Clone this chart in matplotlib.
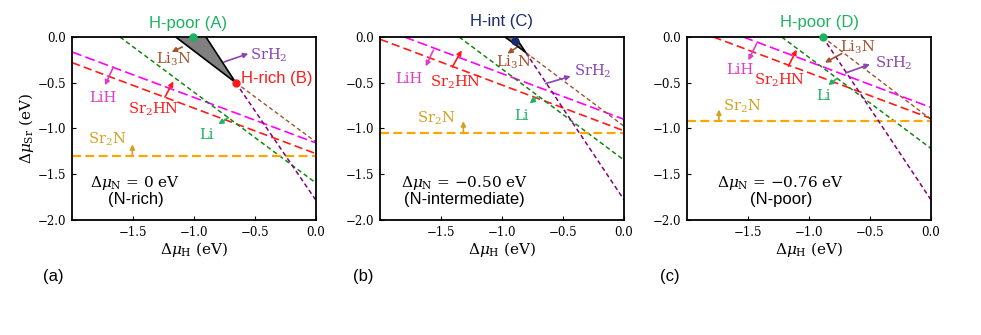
import matplotlib
matplotlib.use('Agg')
import matplotlib.pyplot as plt
from matplotlib.patches import Polygon

plt.rcParams['font.family'] = 'DejaVu Serif'
plt.rcParams['mathtext.fontset'] = 'dejavuserif'

# competing phases
labels = ['LiH', r'Sr$_2$HN', 'Li', r'Sr$_2$N', r'Li$_3$N', r'SrH$_2$']
line_colors = ['#ff00ff', '#ff1a1a', '#118811', '#ffa500', '#a0522d', '#800080']
text_colors = ['#dc3ec8', '#ff1a1a', '#1db360', '#d4a020', '#a0522d', '#8a44b4']

mu_N = ['0', '-0.50', '-0.76']
n_cond = ['(N-rich)', '(N-intermediate)', '(N-poor)']

# line end points, one entry per phase (LiH, Sr2HN, Li, Sr2N, Li3N, SrH2)
a_x0 = [-2.0, -2.0, -1.607, -2.0, -0.658, -0.658]
a_y0 = [-0.164, -0.28, 0.0, -1.30, -0.499, -0.499]
a_y1 = [-1.158, -1.275, -1.596, -1.30, -1.148, -1.785]
b_x0 = [-1.80, -2.0, -1.352, -2.0, -0.805, -0.805]
b_y0 = [0.0, -0.025, 0.0, -1.047, -0.17, -0.17]
b_y1 = [-0.90, -1.025, -1.345, -1.047, -0.975, -1.78]
c_x0 = [-1.538, -1.784, -1.224, -2.0, -0.888, -0.888]
c_y0 = [0.0, 0.0, 0.0, -0.915, 0.0, 0.0]
c_y1 = [-0.77, -0.89, -1.218, -0.915, -0.90, -1.78]

# stable region corners
a_region_x = [-1.150, -0.902, -0.658]
a_region_y = [0.0, 0.0, -0.499]
b_region_x = [-0.975, -0.89, -0.805]
b_region_y = [0.0, 0.0, -0.17]

# special points
point_names = ['H-poor (A)', 'H-rich (B)', 'H-int (C)', 'H-poor (D)']
point_x = [-1.005, -0.658, -0.893, -0.888]
point_y = [0.0, -0.499, -0.047, 0.0]
point_colors = ['#1db360', '#ff1a1a', '#1a2a6c', '#1db360']

dashes = [(6, 2.5), (5, 2.5), (3, 2), (4, 2), (3, 2), (3, 2)]
widths = [1.2, 1.2, 1.1, 1.6, 1.0, 1.1]

# arrow tail, arrow head, label position for each phase (panel by panel)
a_arrows = [((-1.661, -0.328), (-1.730, -0.528), (-1.751, -0.663)),
            ((-1.238, -0.656), (-1.169, -0.485), (-1.333, -0.794)),
            ((-0.719, -0.882), (-0.800, -0.954), (-0.896, -1.075)),
            ((-1.505, -1.293), (-1.505, -1.173), (-1.716, -1.122)),
            ((-1.096, -0.109), (-1.183, -0.164), (-1.169, -0.248)),
            ((-0.754, -0.273), (-0.555, -0.182), (-0.391, -0.200))]
b_arrows = [((-1.563, -0.145), (-1.626, -0.320), (-1.762, -0.462)),
            ((-1.407, -0.327), (-1.331, -0.145), (-1.380, -0.490)),
            ((-0.710, -0.655), (-0.773, -0.727), (-0.842, -0.865)),
            ((-1.317, -1.047), (-1.317, -0.920), (-1.544, -0.890)),
            ((-0.874, -0.109), (-0.956, -0.182), (-0.902, -0.273)),
            ((-0.642, -0.509), (-0.437, -0.429), (-0.260, -0.371))]
c_arrows = [((-1.429, -0.073), (-1.497, -0.255), (-1.566, -0.364)),
            ((-1.169, -0.320), (-1.101, -0.138), (-1.238, -0.473)),
            ((-0.773, -0.455), (-0.842, -0.527), (-0.883, -0.647)),
            ((-1.738, -0.909), (-1.738, -0.793), (-1.546, -0.756)),
            ((-0.732, -0.182), (-0.869, -0.280), (-0.596, -0.109)),
            ((-0.699, -0.393), (-0.500, -0.298), (-0.309, -0.291))]

fig = plt.figure(figsize=(9.81, 3.35), dpi=100)
lefts = [0.0734, 0.3874, 0.7003]
panels = [(a_x0, a_y0, a_y1, a_arrows), (b_x0, b_y0, b_y1, b_arrows),
          (c_x0, c_y0, c_y1, c_arrows)]
regions = [(a_region_x, a_region_y), (b_region_x, b_region_y), None]
text_x = [-1.48, -1.31, -1.23]
panel_tags = ['(a)', '(b)', '(c)']
tag_x = [0.054, 0.370, 0.683]
sans = 'Liberation Sans'

for k in range(3):
    ax = fig.add_axes([lefts[k], 0.3433, 0.2487, 0.5463])
    x0, y0, y1, arrows = panels[k]
    for i in range(6):
        ax.plot([x0[i], 0.0], [y0[i], y1[i]], color=line_colors[i], lw=widths[i],
                dashes=dashes[i], zorder=2)
        tail, head, lab = arrows[i]
        ax.annotate('', xy=head, xytext=tail,
                    arrowprops=dict(arrowstyle='-|>', color=text_colors[i], lw=1.2,
                                    mutation_scale=7, shrinkA=0, shrinkB=0))
        ax.text(lab[0], lab[1], labels[i], color=text_colors[i], fontsize=10.5,
                ha='center', va='center')
    if regions[k] is not None:
        rx, ry = regions[k]
        ax.add_patch(Polygon(list(zip(rx, ry)), closed=True, facecolor='#808080',
                             edgecolor='black', lw=1.2, zorder=3))
    ax.text(text_x[k], -1.595, r'$\Delta\mu_{\rm N}$ = $%s$ eV' % mu_N[k],
            fontsize=11, ha='center', va='center')
    ax.text(text_x[k], -1.775, n_cond[k], family=sans, fontsize=12,
            ha='center', va='center')
    ax.set_xlim(-2.0, 0.0)
    ax.set_ylim(-2.0, 0.0)
    ax.set_xticks([-1.5, -1.0, -0.5, 0.0])
    ax.set_yticks([0.0, -0.5, -1.0, -1.5, -2.0])
    ax.tick_params(labelsize=8.5, direction='in', length=3, width=0.8, pad=4)
    for s in ax.spines.values():
        s.set_linewidth(1.3)
    ax.set_xlabel(r'$\Delta\mu_{\rm H}$ (eV)', fontsize=11, labelpad=1)
    if k == 0:
        ax.set_ylabel(r'$\Delta\mu_{\rm Sr}$ (eV)', fontsize=11, labelpad=1)
    fig.text(tag_x[k], 0.176, panel_tags[k], family=sans, fontsize=12,
             ha='center', va='center')

    # special points of this panel
    if k == 0:
        idx = [0, 1]
    elif k == 1:
        idx = [2]
    else:
        idx = [3]
    for j in idx:
        ax.plot(point_x[j], point_y[j], 'o', color=point_colors[j], ms=5,
                clip_on=False, zorder=5)
    if k == 0:
        ax.text(-1.046, 0.146, point_names[0], color=point_colors[0], family=sans,
                fontsize=12, ha='center', va='center')
        ax.text(-0.617, -0.455, point_names[1], color=point_colors[1], family=sans,
                fontsize=12, ha='left', va='center')
    elif k == 1:
        ax.text(-1.005, 0.164, point_names[2], color=point_colors[2], family=sans,
                fontsize=12, ha='center', va='center')
    else:
        ax.text(-0.915, 0.153, point_names[3], color=point_colors[3], family=sans,
                fontsize=12, ha='center', va='center')

fig.savefig('out.png', dpi=100)
